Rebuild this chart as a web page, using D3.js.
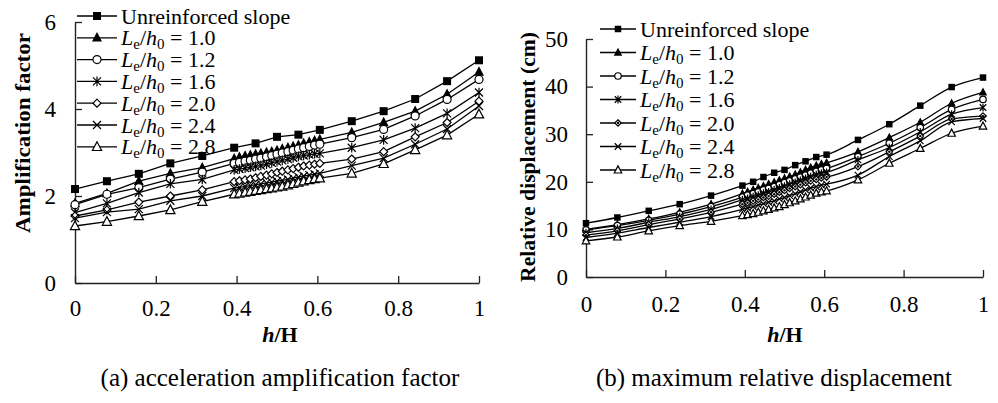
<!DOCTYPE html>
<html>
<head>
<meta charset="utf-8">
<script src="https://cdn.jsdelivr.net/npm/d3@7"></script>
<style>
  html, body { margin: 0; padding: 0; background: #fff; }
  svg { display: block; }
  text { font-family: "Liberation Serif", "Times New Roman", serif; fill: #000; }
</style>
</head>
<body>
<svg id="chart" width="998" height="403"></svg>
<script>
// ---------------- DATA ----------------
const seriesNames = ["Unreinforced slope", "1.0", "1.2", "1.6", "2.0", "2.4", "2.8"];
const markerTypes = ["square", "triangle", "circle", "star", "diamond", "cross", "openTriangle"];

// h/H positions
const hUnreinfA = [0,0.079,0.158,0.236,0.315,0.394,0.447,0.500,0.553,0.606,0.685,0.764,0.842,0.921,1.0];
const hUnreinfB = [0,0.079,0.158,0.236,0.315,0.394,0.421,0.447,0.474,0.500,0.527,0.553,0.580,0.606,0.685,0.764,0.842,0.921,1.0];
const hReinf = [0,0.079,0.158,0.236,0.315,0.394,0.407,0.421,0.434,0.447,0.460,0.474,0.487,0.500,0.513,0.527,0.540,0.553,0.566,0.580,0.593,0.606,0.685,0.764,0.842,0.921,1.0];

// (a) acceleration amplification factor
const ampUnreinforced = [2.16,2.34,2.51,2.75,2.92,3.11,3.21,3.36,3.41,3.52,3.72,3.95,4.23,4.64,5.12];
const ampLe10 = [1.83,2.06,2.34,2.52,2.65,2.86,2.89,2.92,2.94,2.96,2.98,3.00,3.02,3.05,3.08,3.11,3.14,3.17,3.21,3.24,3.27,3.30,3.46,3.69,3.95,4.34,4.85];
const ampLe12 = [1.80,2.04,2.19,2.39,2.55,2.75,2.77,2.80,2.82,2.85,2.87,2.90,2.93,2.96,2.99,3.02,3.05,3.08,3.11,3.14,3.17,3.19,3.34,3.53,3.84,4.22,4.68];
const ampLe16 = [1.62,1.83,2.08,2.28,2.38,2.60,2.62,2.64,2.66,2.68,2.70,2.73,2.76,2.79,2.82,2.85,2.88,2.91,2.93,2.95,2.97,2.98,3.11,3.29,3.56,3.90,4.38];
const ampLe20 = [1.54,1.68,1.86,2.00,2.14,2.33,2.35,2.37,2.39,2.42,2.45,2.48,2.51,2.54,2.57,2.60,2.63,2.66,2.69,2.71,2.73,2.75,2.85,3.02,3.36,3.69,4.18];
const ampLe24 = [1.49,1.63,1.70,1.89,2.00,2.18,2.20,2.22,2.24,2.26,2.28,2.30,2.32,2.34,2.36,2.38,2.41,2.44,2.46,2.48,2.50,2.52,2.70,2.87,3.19,3.54,4.07];
const ampLe28 = [1.31,1.41,1.54,1.68,1.87,2.04,2.06,2.08,2.10,2.12,2.14,2.16,2.18,2.20,2.22,2.25,2.28,2.31,2.34,2.37,2.39,2.41,2.52,2.74,3.06,3.40,3.88];

// (b) maximum relative displacement (cm)
const dispUnreinforced = [11.3,12.5,13.9,15.3,17.1,19.2,20.0,21.0,21.9,22.5,23.5,24.3,25.2,25.7,28.8,32.1,36.0,39.9,41.9];
const dispLe10 = [10.0,11.0,12.2,13.6,15.3,17.5,17.9,18.3,18.7,19.1,19.5,19.9,20.3,20.7,21.1,21.5,22.0,22.5,23.0,23.4,23.7,24.0,26.3,29.3,32.5,36.5,38.8];
const dispLe12 = [9.9,10.8,11.9,13.2,14.8,16.8,17.2,17.5,17.9,18.3,18.6,19.0,19.4,19.8,20.2,20.6,21.0,21.4,21.8,22.2,22.5,22.8,25.3,28.1,31.4,35.2,37.3];
const dispLe16 = [9.3,10.2,11.5,12.7,14.2,16.2,16.5,16.9,17.2,17.6,17.9,18.3,18.7,19.1,19.5,19.9,20.3,20.7,21.1,21.5,21.8,22.0,24.6,27.2,30.5,34.2,35.6];
const dispLe20 = [8.8,9.7,11.0,12.2,13.6,15.3,15.6,16.0,16.3,16.7,17.0,17.4,17.8,18.2,18.6,19.0,19.4,19.8,20.2,20.5,20.8,21.0,23.2,26.3,29.6,33.2,33.8];
const dispLe24 = [8.3,9.2,10.4,11.5,12.7,14.2,14.5,14.8,15.1,15.4,15.7,16.0,16.4,16.7,17.1,17.5,17.9,18.3,18.7,19.0,19.3,19.5,21.4,25.3,28.6,32.6,33.3];
const dispLe28 = [7.6,8.4,9.7,10.8,11.7,12.9,13.1,13.3,13.6,13.9,14.2,14.5,14.8,15.2,15.6,16.0,16.4,16.8,17.2,17.6,17.9,18.1,20.4,23.9,27.0,30.2,31.7];

const xTicks = [0, 0.2, 0.4, 0.6, 0.8, 1];
const ampTicks = [0, 2, 4, 6];
const dispTicks = [0, 10, 20, 30, 40, 50];

// ---------------- DRAW ----------------
const svg = d3.select("#chart");

function markerPath(type, s) {
  const h = s / 2;
  switch (type) {
    case "triangle":
    case "openTriangle":
      return `M0,${-h * 1.1}L${h},${h * 0.8}L${-h},${h * 0.8}Z`;
    case "diamond":
      return `M0,${-h}L${h},0L0,${h}L${-h},0Z`;
    case "cross":
      return `M${-h},${-h}L${h},${h}M${-h},${h}L${h},${-h}`;
    case "star":
      return `M${-h},${-h}L${h},${h}M${-h},${h}L${h},${-h}M0,${-h * 1.2}L0,${h * 1.2}`;
  }
  return "";
}

function drawMarker(g, type, x, y, s, dot) {
  if (type === "square") {
    g.append("rect").attr("x", x - s / 2).attr("y", y - s / 2).attr("width", s).attr("height", s)
      .attr("fill", "#000");
  } else if (type === "circle") {
    g.append("circle").attr("cx", x).attr("cy", y).attr("r", s / 2)
      .attr("fill", "#fff").attr("stroke", "#000").attr("stroke-width", 1.2);
  } else {
    const filled = type === "triangle";
    g.append("path").attr("d", markerPath(type, type === "openTriangle" ? s * 1.15 : s))
      .attr("transform", `translate(${x},${y})`)
      .attr("stroke", "#000").attr("stroke-width", 1.2)
      .attr("fill", filled ? "#000" : (type === "cross" || type === "star" ? "none" : "#fff"));
    if (type === "diamond" && dot) {
      g.append("circle").attr("cx", x).attr("cy", y).attr("r", 1.2).attr("fill", "#000");
    }
  }
}

function legendLabel(t, x, y, name) {
  const txt = t.append("text").attr("x", x).attr("y", y).attr("font-size", 22);
  if (name === "Unreinforced slope") {
    txt.text(name);
  } else {
    txt.append("tspan").attr("font-style", "italic").text("L");
    txt.append("tspan").attr("font-size", 15).attr("dy", 4).text("e");
    txt.append("tspan").attr("dy", -4).text("/");
    txt.append("tspan").attr("font-style", "italic").text("h");
    txt.append("tspan").attr("font-size", 15).attr("dy", 4).text("0");
    txt.append("tspan").attr("dy", -4).text(" = " + name);
  }
}

function panel(cfg) {
  const g = svg.append("g");
  const x = d3.scaleLinear().domain([0, 1]).range([cfg.x0, cfg.x1]);
  const y = d3.scaleLinear().domain(cfg.yDomain).range([cfg.y0, cfg.y1]);

  // axes
  const ax = g.append("g").attr("transform", `translate(0,${cfg.y0})`)
    .call(d3.axisBottom(x).tickValues(xTicks).tickFormat(d3.format("")).tickSizeInner(-7).tickSizeOuter(0).tickPadding(cfg.xPad));
  const ay = g.append("g").attr("transform", `translate(${cfg.x0},0)`)
    .call(d3.axisLeft(y).tickValues(cfg.yTicks).tickFormat(d3.format("d")).tickSizeInner(-7).tickSizeOuter(0).tickPadding(cfg.yPad));
  [ax, ay].forEach(a => {
    a.attr("font-size", 23).attr("font-family", null);
    a.select(".domain").attr("stroke", "#222").attr("stroke-width", 1.4);
    a.selectAll(".tick line").attr("stroke", "#222").attr("stroke-width", 1.3);
    a.selectAll(".tick text").attr("font-size", 23).attr("fill", "#000");
  });

  // series
  const line = d3.line().x(d => x(d[0])).y(d => y(d[1])).curve(cfg.curve);
  cfg.series.forEach((s) => {
    const pts = s.h.map((h, j) => [h, s.v[j]]);
    g.append("path").datum(pts).attr("d", line).attr("fill", "none")
      .attr("stroke", "#000").attr("stroke-width", 1.3);
  });
  cfg.series.forEach((s, i) => {
    const mg = g.append("g");
    s.h.forEach((h, j) => drawMarker(mg, markerTypes[i], x(h), y(s.v[j]), cfg.ms, cfg.dotDiamond));
  });

  // legend
  const lg = g.append("g");
  seriesNames.forEach((n, i) => {
    const ly = cfg.legY + i * cfg.legStep;
    lg.append("line").attr("x1", cfg.legX0).attr("x2", cfg.legX1).attr("y1", ly).attr("y2", ly)
      .attr("stroke", "#000").attr("stroke-width", 1.3);
    drawMarker(lg, markerTypes[i], (cfg.legX0 + cfg.legX1) / 2, ly, cfg.ms, cfg.dotDiamond);
    legendLabel(lg, cfg.legX1 + 4, ly + 7.5, n);
  });

  // axis titles
  g.append("text").attr("transform", `translate(${cfg.yLabX},${cfg.yLabY}) rotate(-90)`)
    .attr("text-anchor", "middle").attr("font-size", 22).attr("font-weight", "bold")
    .attr("textLength", cfg.yLabLen).attr("lengthAdjust", "spacingAndGlyphs").text(cfg.yLabel);
  const xl = g.append("text").attr("x", cfg.xLabX).attr("y", 342).attr("text-anchor", "middle")
    .attr("font-size", 22).attr("font-weight", "bold");
  xl.append("tspan").attr("font-style", "italic").text("h");
  xl.append("tspan").text("/H");

  // caption
  g.append("text").attr("x", cfg.capX).attr("y", 386).attr("text-anchor", "middle")
    .attr("font-size", 25).text(cfg.caption);
}

panel({
  x0: 75, x1: 479, y0: 283, y1: 22, yDomain: [0, 6], yTicks: ampTicks, xPad: 17, yPad: 19,
  ms: 8, dotDiamond: false, curve: d3.curveLinear,
  series: [
    { h: hUnreinfA, v: ampUnreinforced },
    { h: hReinf, v: ampLe10 }, { h: hReinf, v: ampLe12 }, { h: hReinf, v: ampLe16 },
    { h: hReinf, v: ampLe20 }, { h: hReinf, v: ampLe24 }, { h: hReinf, v: ampLe28 }
  ],
  legX0: 77, legX1: 117, legY: 16, legStep: 21.8,
  yLabel: "Amplification  factor", yLabX: 30, yLabY: 133, yLabLen: 200,
  xLabX: 280, caption: "(a) acceleration amplification factor", capX: 280
});

panel({
  x0: 586, x1: 983, y0: 277, y1: 39, yDomain: [0, 50], yTicks: dispTicks, xPad: 19, yPad: 18,
  ms: 6.5, dotDiamond: true, curve: d3.curveMonotoneX,
  series: [
    { h: hUnreinfB, v: dispUnreinforced },
    { h: hReinf, v: dispLe10 }, { h: hReinf, v: dispLe12 }, { h: hReinf, v: dispLe16 },
    { h: hReinf, v: dispLe20 }, { h: hReinf, v: dispLe24 }, { h: hReinf, v: dispLe28 }
  ],
  legX0: 600, legX1: 636, legY: 29, legStep: 23.5,
  yLabel: "Relative displacement (cm)", yLabX: 535, yLabY: 157, yLabLen: 250,
  xLabX: 785, caption: "(b) maximum relative displacement", capX: 774
});
</script>
</body>
</html>
